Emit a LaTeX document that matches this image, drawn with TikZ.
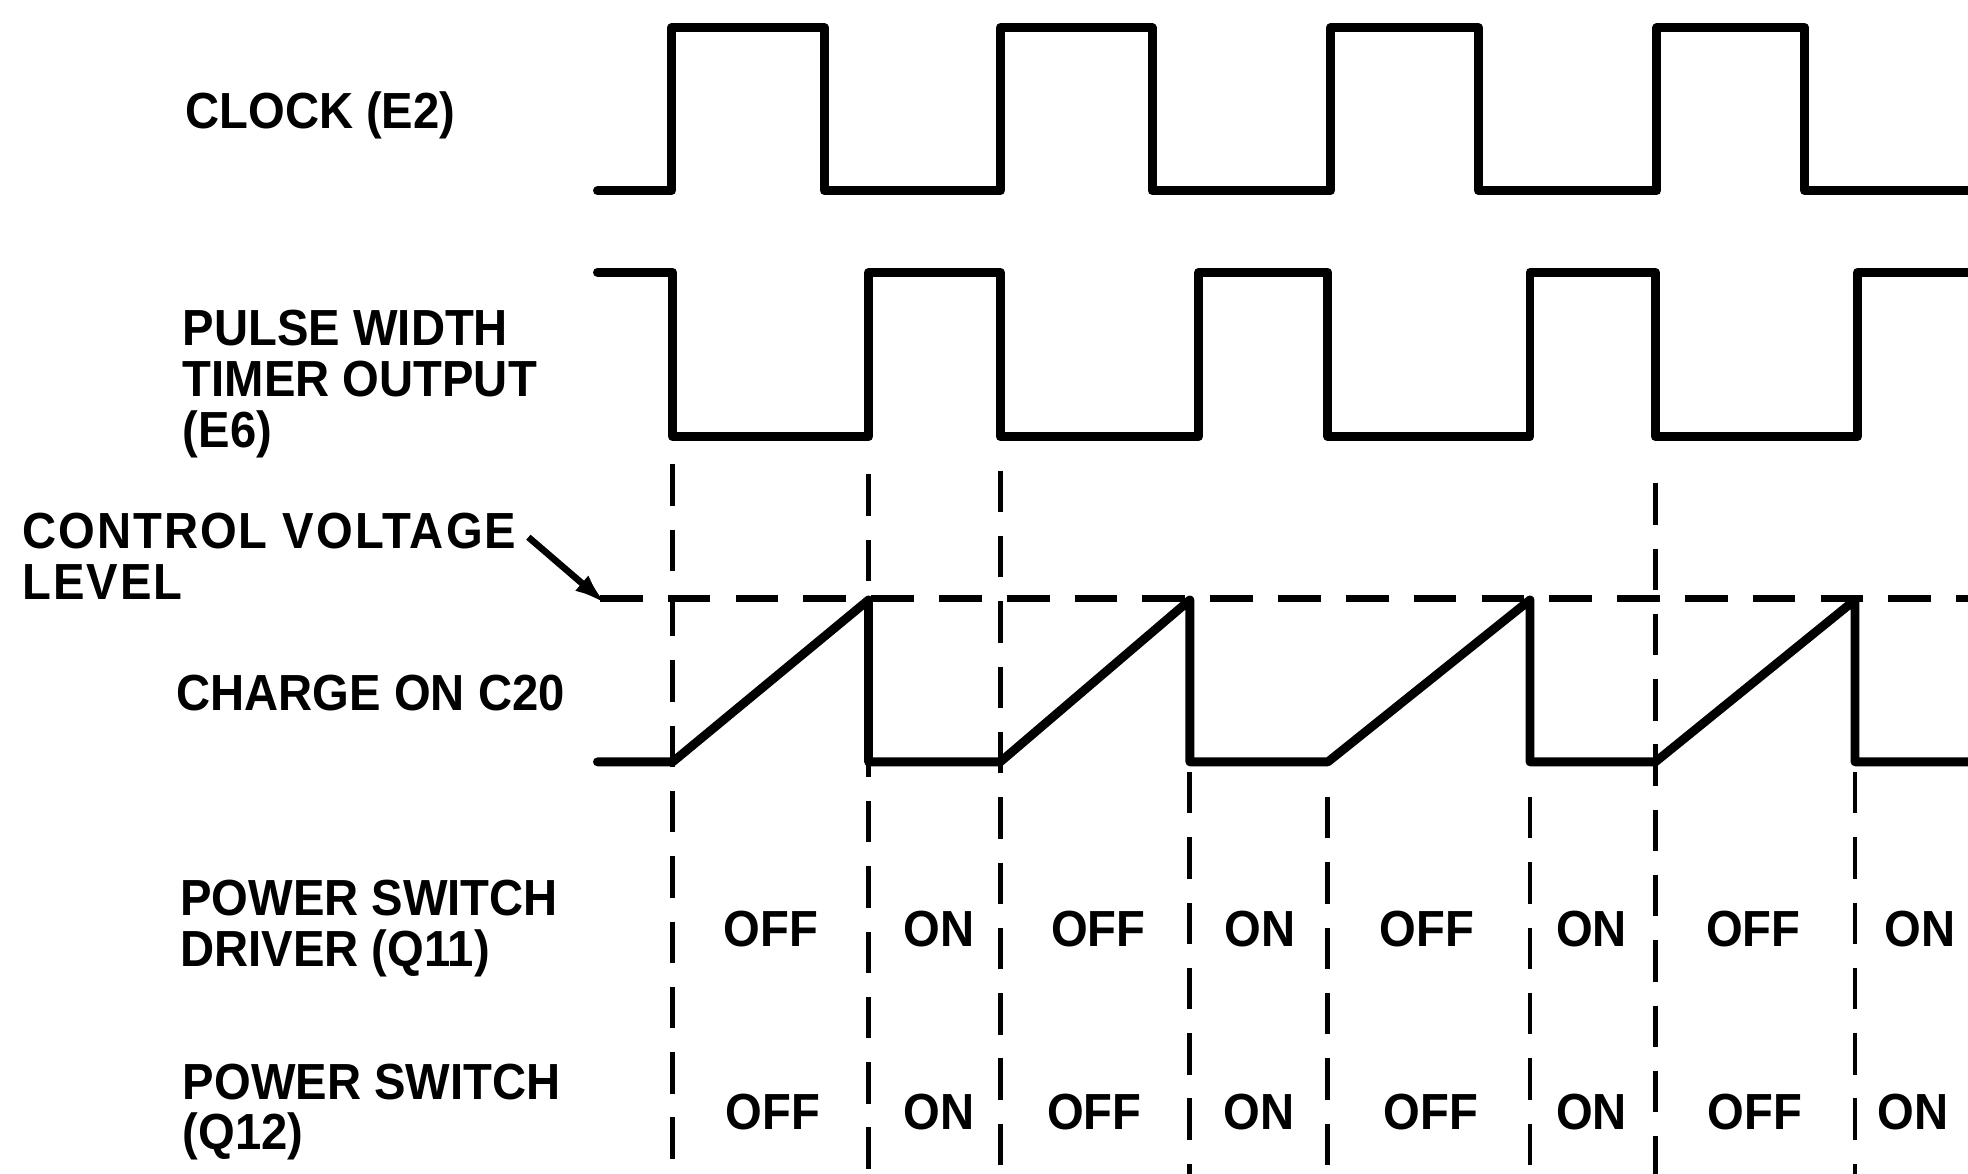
\documentclass[tikz,border=0pt]{standalone}
\usepackage{fontspec}
\setmainfont{Liberation Sans}[FakeStretch=0.93]
\usetikzlibrary{arrows.meta}

\begin{document}
\begin{tikzpicture}[>=Latex, x=0.01cm, y=-0.01cm,
    wave/.style={line width=2pt, line join=round, line cap=round},
    guide/.style={line width=1.1pt, dash pattern=on 0.33cm off 0.19cm},
    level/.style={line width=1.5pt, dash pattern=on 0.34cm off 0.2cm},
    lbl/.style={anchor=west, align=left, inner sep=0pt, font=\bfseries\fontsize{11.5}{11.5}\selectfont},
    state/.style={inner sep=0pt, font=\bfseries\fontsize{11.5}{11.5}\selectfont}]
    \useasboundingbox (0,0) rectangle (1568,935);

        % Signal names
        \node[lbl] (clk) at (147,92) {CLOCK (E2)};
        \node[lbl] (pwt) at (145,306) {PULSE WIDTH\\TIMER OUTPUT\\(E6)};
        \node[lbl, font=\bfseries\fontsize{11.5}{11.5}\selectfont\addfontfeatures{LetterSpace=4}] (cvl) at (17,443) {CONTROL VOLTAGE\\LEVEL};
        \node[lbl] (chg) at (140,552) {CHARGE ON C20};
        \node[lbl] (drv) at (143,740) {POWER SWITCH\\DRIVER (Q11)};
        \node[lbl] (psw) at (145,886) {POWER SWITCH\\(Q12)};

        % Clock
        \draw[wave] (476,152) -| (535,22) -| (657,152) -| (797,22) -| (918,152)
            -| (1060,22) -| (1178,152) -| (1320,22) -| (1438,152) -- (1568,152);

        % Timer output
        \draw[wave] (476,217) -| (536,348) -| (692,217) -| (797,348) -| (955,217)
            -| (1058,348) -| (1219,217) -| (1319,348) -| (1480,217) -- (1568,217);

        % Control voltage level
        \coordinate (cvtail) at (421,428);
        \coordinate (cvtip) at (478,477);
        \draw[level] (cvtip) -- (1568,477);
        \draw[-{Latex[length=0.26cm,width=0.16cm]}, line width=1.5pt, shorten >=-2pt] (cvtail) -- (cvtip);

        % Charge on C20
        \draw[wave] (476,607) -- (536,607) -- (692,478) -- (692,607) -- (797,607)
            -- (948,478) -- (948,607) -- (1058,607) -- (1219,478) -- (1219,607)
            -- (1319,607) -- (1478,478) -- (1478,607) -- (1568,607);

        % Switching instants
        \foreach \x/\top in {536/370, 692/378, 797/375, 948/615, 1058/635, 1219/635, 1319/385, 1478/615} {
    \draw[guide] (\x,\top) -- (\x,935);
}

        % Driver and switch states
        \foreach \x/\val in {614/OFF, 748/ON, 875/OFF, 1004/ON, 1137/OFF, 1268/ON, 1397/OFF, 1530/ON} {
    \node[state] (drv\x) at (\x,740) {\val};
}
        \foreach \x/\val in {616/OFF, 748/ON, 872/OFF, 1003/ON, 1140/OFF, 1268/ON, 1398/OFF, 1524/ON} {
    \node[state] (psw\x) at (\x,886) {\val};
}
    \end{tikzpicture}
\end{document}
